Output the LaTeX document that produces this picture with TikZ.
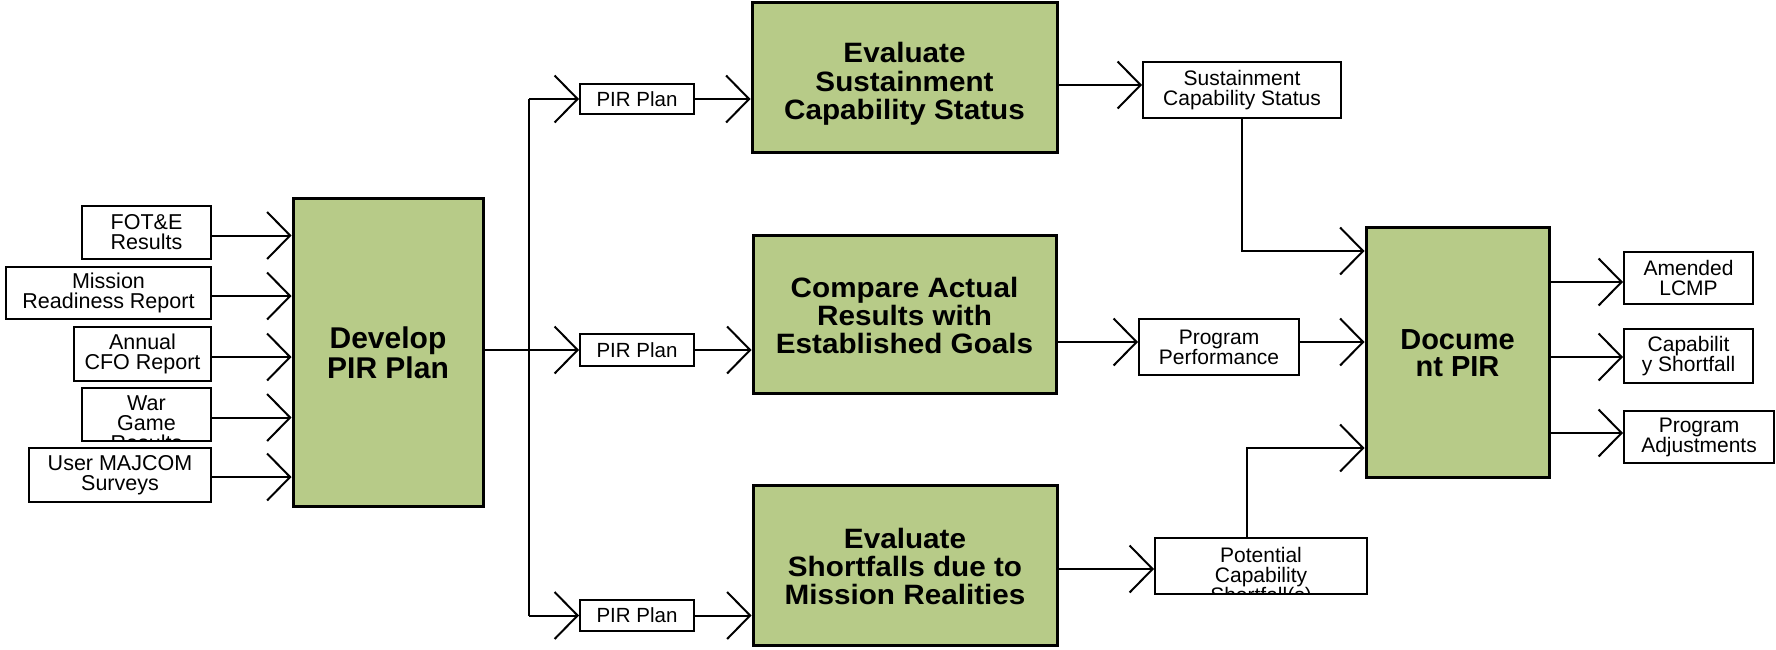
\documentclass[tikz,border=0pt]{standalone}
\usepackage{fontspec}
\setmainfont{Liberation Sans}
\newfontfamily\widefont[FakeStretch=1.06]{Liberation Sans}
\usetikzlibrary{arrows.meta}
\definecolor{boxgreen}{RGB}{183,203,136}
\newcommand\lowtext[2]{\raisebox{-#1}[\height][\depth]{\begin{tabular}{@{}c@{}}#2\end{tabular}}}
\begin{document}
\begin{tikzpicture}[x=1pt,y=-1pt,
  smallbox/.style={draw=black, line width=2pt, fill=white, inner sep=0pt, align=center},
  greenbox/.style={draw=black, line width=3pt, fill=boxgreen, inner sep=0pt, align=center},
  lefttext/.style={font=\fontsize{21.5}{20}\selectfont},
  pirtext/.style={font=\fontsize{20.5}{20}\selectfont},
  righttext/.style={font=\fontsize{21}{20}\selectfont},
  conn/.style={line width=2pt},
  arr/.style={conn, -{Straight Barb[length=23pt,width=47pt]}}
]
\useasboundingbox (0,0) rectangle (1776,649);

% left inputs
\node[smallbox, lefttext, minimum width=129pt, minimum height=53pt] (fot) at (146.5,232.5) {FOT\&E\\Results};
\node[smallbox, lefttext, minimum width=205pt, minimum height=52pt] (mission) at (108.5,293) {Mission\\Readiness Report};
\node[smallbox, lefttext, minimum width=137pt, minimum height=54pt] (annual) at (142.5,354) {Annual\\CFO Report};
\node[smallbox, minimum width=129pt, minimum height=53pt,
  path picture={\node[anchor=north, inner sep=0pt, align=center, lefttext] at ([yshift=-7pt]path picture bounding box.north) {War\\Game\\Results};}] (war) at (146.5,414.5) {};
\node[smallbox, lefttext, minimum width=182pt, minimum height=54pt] (user) at (120,475) {User MAJCOM\\Surveys};

% develop
\node[greenbox, minimum width=190pt, minimum height=308pt, font=\fontsize{30}{27}\selectfont\bfseries] (dev) at (388,352) {\lowtext{5pt}{Develop\\PIR Plan}};

% PIR plans
\node[smallbox, pirtext, minimum width=114pt, minimum height=30pt] (pir1) at (637,99) {PIR Plan};
\node[smallbox, pirtext, minimum width=114pt, minimum height=32pt] (pir2) at (637,350) {PIR Plan};
\node[smallbox, pirtext, minimum width=114pt, minimum height=31pt] (pir3) at (637,615.5) {PIR Plan};

% middle green boxes
\node[greenbox, minimum width=305pt, minimum height=150pt, font=\widefont\fontsize{28}{27}\selectfont\bfseries] (eval1) at (904.5,77) {\lowtext{8pt}{Evaluate\\Sustainment\\Capability Status}};
\node[greenbox, minimum width=303pt, minimum height=158pt, font=\widefont\fontsize{28}{26}\selectfont\bfseries] (compare) at (904.5,314) {\lowtext{5pt}{Compare Actual\\Results with\\Established Goals}};
\node[greenbox, minimum width=304pt, minimum height=160pt, font=\widefont\fontsize{28}{26}\selectfont\bfseries] (eval3) at (905,565) {\lowtext{5pt}{Evaluate\\Shortfalls due to\\Mission Realities}};

% right side
\node[smallbox, righttext, minimum width=198pt, minimum height=56pt] (sustain) at (1242,90) {Sustainment\\Capability Status};
\node[smallbox, righttext, minimum width=160pt, minimum height=56pt] (pp) at (1219,347) {Program\\Performance};
\node[smallbox, minimum width=212pt, minimum height=56pt,
  path picture={\node[anchor=north, inner sep=0pt, align=center, righttext] at ([yshift=-8pt]path picture bounding box.north) {Potential\\Capability\\Shortfall(s)};}] (pot) at (1261,566) {};

\node[greenbox, minimum width=183pt, minimum height=250pt, font=\fontsize{29}{26}\selectfont\bfseries] (doc) at (1457.5,352) {\lowtext{5pt}{Docume\\nt PIR}};

\node[smallbox, righttext, minimum width=129pt, minimum height=52pt] (amended) at (1688.5,278) {Amended\\LCMP};
\node[smallbox, righttext, minimum width=129pt, minimum height=54pt] (capshort) at (1688.5,356) {Capabilit\\y Shortfall};
\node[smallbox, righttext, minimum width=150pt, minimum height=52pt] (progadj) at (1699,437) {Program\\Adjustments};

% helper coordinates
\coordinate (j) at (529,350);
\coordinate (r1) at (0,85);
\coordinate (r2) at (0,342);
\coordinate (r3) at (0,569);
\coordinate (d1) at (0,251);
\coordinate (d3) at (0,448);
\coordinate (o1) at (0,282);
\coordinate (o2) at (0,357);
\coordinate (o3) at (0,433);

% input connectors
\draw[arr] ([yshift=-3pt]fot.east) -- ([yshift=-3pt]fot.east -| dev.west);
\draw[arr] ([yshift=-3pt]mission.east) -- ([yshift=-3pt]mission.east -| dev.west);
\draw[arr] ([yshift=-3pt]annual.east) -- ([yshift=-3pt]annual.east -| dev.west);
\draw[arr] ([yshift=-3pt]war.east) -- ([yshift=-3pt]war.east -| dev.west);
\draw[arr] ([yshift=-2pt]user.east) -- ([yshift=-2pt]user.east -| dev.west);

% develop to PIR plans
\draw[conn] (dev.east |- j) -- (j);
\draw[conn] (j |- pir1.west) -- (j |- pir3.west);
\draw[arr] (j |- pir1.west) -- (pir1.west);
\draw[arr] (j |- pir2.west) -- (pir2.west);
\draw[arr] (j |- pir3.west) -- (pir3.west);

% PIR plans to green boxes
\draw[arr] (pir1.east) -- (pir1.east -| eval1.west);
\draw[arr] (pir2.east) -- (pir2.east -| compare.west);
\draw[arr] (pir3.east) -- (pir3.east -| eval3.west);

% green boxes to outputs
\draw[arr] (eval1.east |- r1) -- (sustain.west |- r1);
\draw[arr] (compare.east |- r2) -- (pp.west |- r2);
\draw[arr] (eval3.east |- r3) -- (pot.west |- r3);

% to document
\draw[arr] (sustain.south) |- (doc.west |- d1);
\draw[arr] (pp.east |- r2) -- (doc.west |- r2);
\draw[arr] ([xshift=-14pt]pot.north) |- (doc.west |- d3);

% document outputs
\draw[arr] (doc.east |- o1) -- (amended.west |- o1);
\draw[arr] (doc.east |- o2) -- (capshort.west |- o2);
\draw[arr] (doc.east |- o3) -- (progadj.west |- o3);
\end{tikzpicture}
\end{document}
